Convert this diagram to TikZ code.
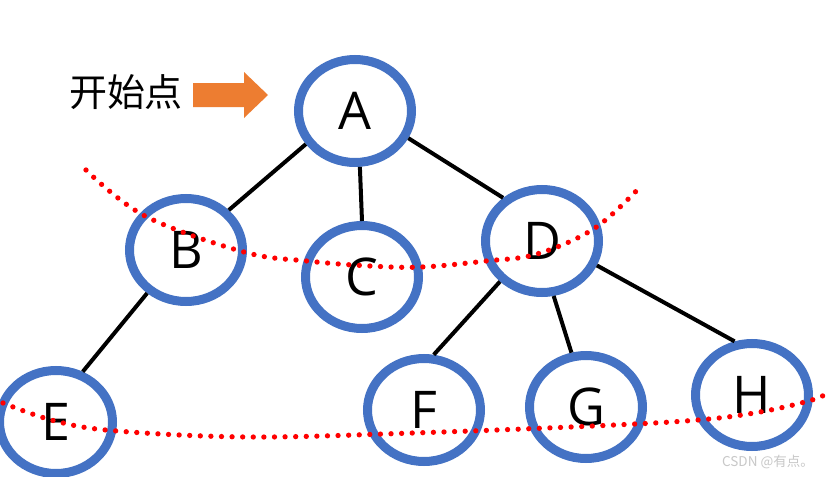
\documentclass[tikz,border=0pt]{standalone}
\usepackage{fontspec}
\setmainfont{Open Sans}
\newfontfamily\cjk{Noto Sans CJK SC}
\usetikzlibrary{shapes.geometric}
\definecolor{ringblue}{HTML}{4472C4}
\definecolor{arroworange}{HTML}{ED7D31}
\definecolor{wmgray}{RGB}{200,200,200}
\definecolor{dotred}{HTML}{FF0000}
\begin{document}
\begin{tikzpicture}[x=1pt,y=-1pt,
  vtx/.style={ellipse, draw=ringblue, line width=9pt, minimum width=113pt, minimum height=103pt, inner sep=0pt, font=\fontsize{52}{60}\selectfont},
  treeedge/.style={line width=4pt, black},
  reddots/.style={dotred, line width=5.3pt, line cap=round, dash pattern=on 0pt off 10.6pt}
]
\fill[white] (0,0) rectangle (831,477);
\useasboundingbox (0,0) rectangle (831,477);
% vertices
\node[vtx] (A) at (355,111) {A};
\node[vtx] (B) at (186,250) {B};
\node[vtx] (C) at (362,277) {C};
\node[vtx] (D) at (542,241) {D};
\node[vtx] (E) at (56,422) {E};
\node[vtx] (F) at (424,410) {F};
\node[vtx] (G) at (586,407) {G};
\node[vtx] (H) at (752,395) {H};
% edges
\draw[treeedge] (A.214) -- (B.43);
\draw[treeedge] (A.275) -- (C.90);
\draw[treeedge] (A.333) -- (D.132);
\draw[treeedge] (B.228) -- (E.62);
\draw[treeedge] (D.224) -- (F.80);
\draw[treeedge] (D.282) -- (G.105);
\draw[treeedge] (D.336) -- (H.108);
% start label and arrow
\node[font=\cjk\fontsize{38}{44}\selectfont, inner sep=0pt] (start) at (126,92) {开始点};
\fill[arroworange] (193,83) -- (244,83) -- (244,72) -- (268,95) -- (244,118) -- (244,107) -- (193,107) -- cycle;
% level curves
\draw[reddots] plot[smooth, tension=0.6] coordinates {(86,170) (145,216) (244,252) (307,261) (370,266) (422,267) (486,261) (537,254) (595,228) (642,185)};
\draw[reddots] plot[smooth, tension=0.6] coordinates {(3,403) (55,421) (117,431) (250,437) (413,433) (593,426) (698,420) (760,412) (812,400) (831,391)};
% watermark
\node[text=wmgray, font=\cjk\fontsize{13.5}{16}\selectfont, anchor=east, inner sep=0pt] (wm) at (814,462) {CSDN @有点。};
\end{tikzpicture}
\end{document}
